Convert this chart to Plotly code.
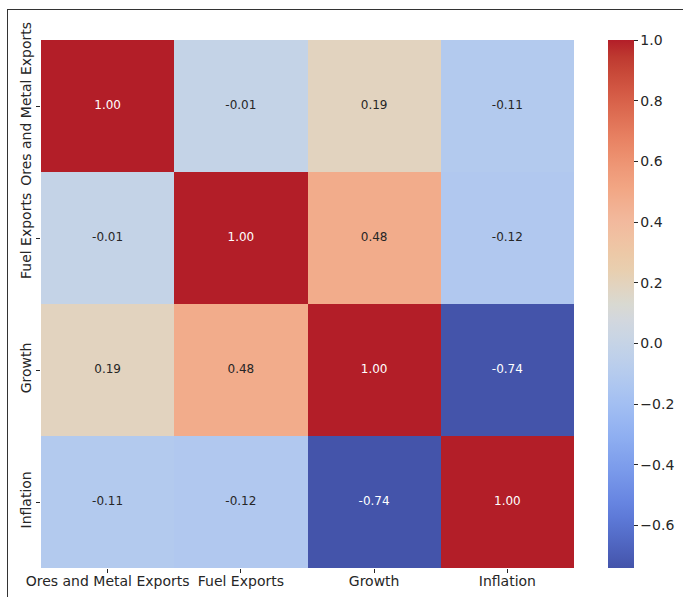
import numpy as np
import plotly.graph_objects as go

labels = ["Ores and Metal Exports", "Fuel Exports", "Growth", "Inflation"]
corr = [
    [1.00, -0.01, 0.19, -0.11],
    [-0.01, 1.00, 0.48, -0.12],
    [0.19, 0.48, 1.00, -0.74],
    [-0.11, -0.12, -0.74, 1.00],
]
cbar_ticks = [-0.6, -0.4, -0.2, 0.0, 0.2, 0.4, 0.6, 0.8, 1.0]

coolwarm_rgb = [
    (59, 76, 192), (68, 90, 204), (77, 104, 215), (87, 117, 225), (98, 130, 234),
    (108, 142, 241), (119, 154, 247), (130, 165, 251), (141, 176, 254), (152, 185, 255),
    (163, 194, 255), (174, 201, 253), (184, 208, 249), (194, 213, 244), (204, 217, 238),
    (213, 219, 230), (221, 221, 221), (229, 216, 209), (236, 211, 197), (241, 204, 184),
    (245, 196, 172), (247, 187, 159), (247, 177, 147), (247, 166, 134), (244, 154, 123),
    (241, 141, 111), (236, 127, 99), (229, 112, 88), (222, 96, 77), (213, 80, 66),
    (203, 62, 56), (192, 40, 47), (180, 4, 38),
]

# slight tone adjustment to mimic the muted look of the reference image
R_IN, R_OUT = [0, 59, 184, 255], [0, 68, 183, 250]
G_IN, G_OUT = [0, 4, 76, 205, 255], [26, 30, 84, 202, 250]
B_IN, B_OUT = [0, 38, 160, 192, 230, 255], [0, 40, 158, 170, 222, 242]


def muted(c):
    r, g, b = c
    return (np.interp(r, R_IN, R_OUT), np.interp(g, G_IN, G_OUT), np.interp(b, B_IN, B_OUT))


n = len(coolwarm_rgb) - 1
colorscale = [[i / n, "rgb(%d,%d,%d)" % muted(c)] for i, c in enumerate(coolwarm_rgb)]

zmin, zmax = -0.74, 1.0

W, H = 683, 597
L, R, T, B = 41, 109, 40, 29
pw, ph = W - L - R, H - T - B

fig = go.Figure()
fig.add_trace(go.Heatmap(
    z=corr, x=labels, y=labels, zmin=zmin, zmax=zmax, colorscale=colorscale,
    hoverinfo="skip",
    colorbar=dict(
        x=(608 - L) / pw, xanchor="left", xpad=0, y=0.5, yanchor="middle", ypad=0,
        len=1, lenmode="fraction", thickness=26, thicknessmode="pixels",
        outlinewidth=0, tickvals=cbar_ticks, tickformat=".1f",
        ticks="outside", ticklen=4, tickwidth=1, tickcolor="#262626",
        tickfont=dict(family="DejaVu Sans", size=14, color="#262626"),
    ),
))

tx, ty, tt, tc = [], [], [], []
for i, row in enumerate(corr):
    for j, v in enumerate(row):
        tx.append(labels[j]); ty.append(labels[i]); tt.append("%.2f" % v)
        tc.append("white" if (v > 0.75 or v < -0.5) else "#262626")
fig.add_trace(go.Scatter(
    x=tx, y=ty, text=tt, mode="text", hoverinfo="skip", showlegend=False,
    textfont=dict(family="DejaVu Sans", size=12, color=tc),
))

# figure frame (top and left edges)
fx = lambda px: (px - L) / pw
fy = lambda py: 1 - (py - T) / ph
line = dict(color="#333333", width=1)
fig.add_shape(type="line", xref="paper", yref="paper", x0=fx(7), x1=fx(W + 5), y0=fy(9.5), y1=fy(9.5), line=line)
fig.add_shape(type="line", xref="paper", yref="paper", x0=fx(7.5), x1=fx(7.5), y0=fy(9), y1=fy(H + 5), line=line)

axis_font = dict(family="DejaVu Sans", size=14, color="#262626")
fig.update_layout(
    width=W, height=H, margin=dict(l=L, r=R, t=T, b=B, autoexpand=False),
    paper_bgcolor="white", plot_bgcolor="white", showlegend=False,
    xaxis=dict(type="category", range=[-0.5, 3.5], showgrid=False, zeroline=False,
               ticks="outside", ticklen=4, tickwidth=1, tickcolor="#262626",
               tickfont=axis_font, tickangle=0, showline=False, automargin=False,
               ticklabelstandoff=-4),
    yaxis=dict(type="category", range=[3.5, -0.5], showgrid=False, zeroline=False,
               ticks="outside", ticklen=4, tickwidth=1, tickcolor="#262626",
               tickfont=axis_font, tickangle=-90, showline=False, automargin=False,
               ticklabelstandoff=-1),
)

fig.write_html("out.html")
